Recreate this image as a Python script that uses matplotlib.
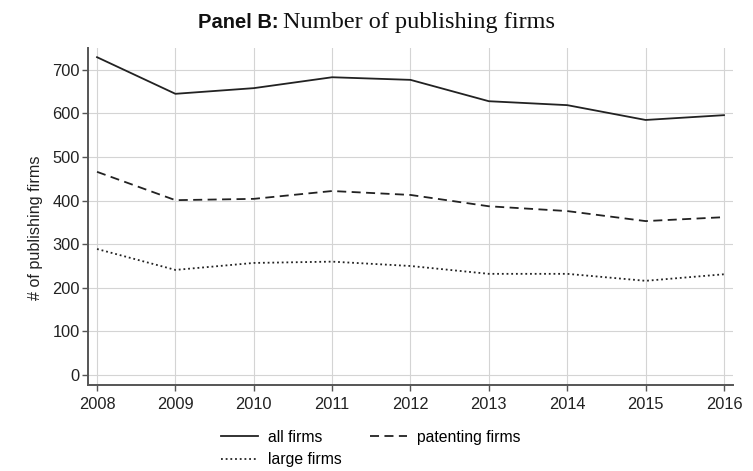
import matplotlib
matplotlib.use("Agg")
from matplotlib import pyplot as plt

years = [2008, 2009, 2010, 2011, 2012, 2013, 2014, 2015, 2016]
all_firms = [729, 645, 658, 683, 677, 628, 619, 585, 596]
patenting_firms = [466, 401, 404, 422, 413, 387, 376, 353, 362]
large_firms = [289, 241, 257, 260, 250, 232, 232, 216, 231]
y_ticks = [0, 100, 200, 300, 400, 500, 600, 700]

plt.rcParams['font.family'] = ['Liberation Sans', 'DejaVu Sans']

fig = plt.figure(figsize=(7.53, 4.71), dpi=100)
ax = fig.add_axes([0.1169, 0.1826, 0.8565, 0.7154])

line_col = "#222222"
l1, = ax.plot(years, all_firms, color=line_col, lw=1.3, ls="-", label="all firms")
l2, = ax.plot(years, patenting_firms, color=line_col, lw=1.3, ls=(0, (5, 3)), label="patenting firms")
l3, = ax.plot(years, large_firms, color=line_col, lw=1.3, ls=(0, (1, 1.6)), label="large firms")

ax.set_xlim(2007.885, 2016.115)
ax.set_ylim(-23, 750)
ax.set_xticks(years)
ax.set_yticks(y_ticks)
ax.grid(True, color="#d4d4d4", lw=0.8)
ax.set_axisbelow(True)

for s in ["top", "right"]:
    ax.spines[s].set_visible(False)
for s in ["left", "bottom"]:
    ax.spines[s].set_color("#555555")
    ax.spines[s].set_linewidth(1.4)
ax.tick_params(axis="both", direction="out", length=4, width=1, color="#555555",
               labelsize=11.8, labelcolor="#222222")
ax.tick_params(axis="x", pad=5)
ax.tick_params(axis="y", pad=2)

ax.set_ylabel("# of publishing firms", fontsize=11.6, color="#222222")
ax.yaxis.set_label_coords(-0.070, 0.466)

# title: bold sans part + serif part
fig.text(0.370, 0.953, "Panel B:", ha="right", va="center", fontsize=14.5,
         fontweight="bold", family="Liberation Sans", color="#111111")
fig.text(0.376, 0.953, "Number of publishing firms", ha="left", va="center",
         fontsize=17.5, family="Liberation Serif", color="#111111")

# legend fills column by column: all/large in col 1, patenting in col 2
fig.legend([l1, l3, l2], ["all firms", "large firms", "patenting firms"],
           loc="upper left", bbox_to_anchor=(0.294, 0.088), ncol=2, frameon=False,
           fontsize=11.3, handlelength=2.35, columnspacing=1.8, labelspacing=0.5,
           handletextpad=0.64, borderpad=0, borderaxespad=0)

fig.savefig("out.png", dpi=100)
